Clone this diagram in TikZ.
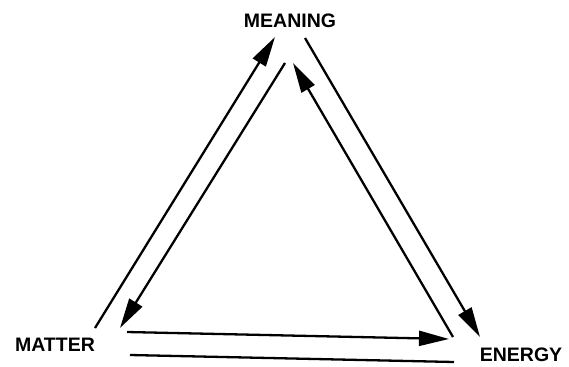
\documentclass[tikz,border=0pt]{standalone}
\usepackage{fontspec}
\setmainfont{Liberation Sans}
\usetikzlibrary{arrows.meta}
\begin{document}
\begin{tikzpicture}[x=1pt,y=-1pt,
  lbl/.style={font=\fontsize{19.5}{22}\selectfont\bfseries, inner sep=0pt},
  conn/.style={line width=2.3pt},
  arr/.style={conn, -{Triangle[length=30pt,width=15pt]}}]
\useasboundingbox (0,0) rectangle (569,366);
\node[lbl] (meaning) at (290,21) {MEANING};
\node[lbl] (matter) at (55,345) {MATTER};
\node[lbl] (energy) at (521,355) {ENERGY};
% endpoints
\coordinate (a1) at (95,328);  \coordinate (a2) at (275,37);
\coordinate (b1) at (285,63);  \coordinate (b2) at (120,328);
\coordinate (c1) at (305,38);  \coordinate (c2) at (480,337);
\coordinate (d1) at (453,337); \coordinate (d2) at (293,63);
\coordinate (e1) at (127,332); \coordinate (e2) at (449,339);
\coordinate (f1) at (130,355); \coordinate (f2) at (454,362);
\draw[arr] (a1) -- (a2);
\draw[arr] (b1) -- (b2);
\draw[arr] (c1) -- (c2);
\draw[arr] (d1) -- (d2);
\draw[arr] (e1) -- (e2);
\draw[conn] (f1) -- (f2);
\end{tikzpicture}
\end{document}
